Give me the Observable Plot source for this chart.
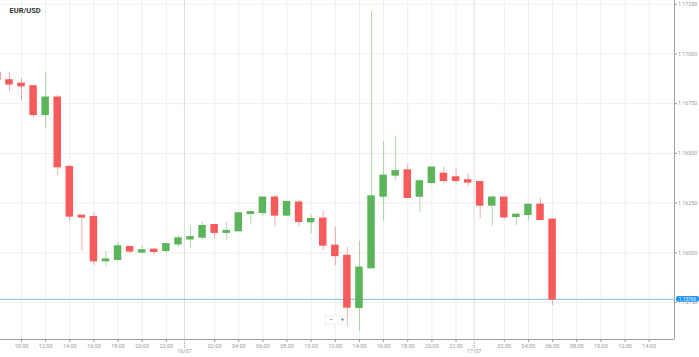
<!DOCTYPE html>
<html><head><meta charset="utf-8">
<script src="https://cdn.jsdelivr.net/npm/d3@7"></script>
<script src="https://cdn.jsdelivr.net/npm/@observablehq/plot@0.6"></script>
<style>
body{margin:0;background:#fff;font-family:Roboto,sans-serif}
#chart{position:relative;width:699px;height:357px;overflow:hidden}
</style>
</head><body><div id="chart"></div>
<script>
const title = "EUR/USD";
// hour index counted from 15/07 00:00
const hours = [8,9,10,11,12,13,14,15,16,17,18,19,20,21,22,23,24,25,26,27,28,29,30,31,32,33,34,35,36,37,38,39,40,41,42,43,44,45,46,47,48,49,50,51,52,53,54];
const open  = [1.16902,1.16867,1.16850,1.16837,1.16694,1.16780,1.16431,1.16186,1.16179,1.15958,1.15965,1.16028,1.16002,1.16015,1.16010,1.16043,1.16068,1.16077,1.16139,1.16101,1.16109,1.16196,1.16201,1.16277,1.16188,1.16252,1.16154,1.16171,1.16035,1.15984,1.15723,1.15923,1.16283,1.16389,1.16414,1.16283,1.16352,1.16397,1.16379,1.16364,1.16355,1.16238,1.16277,1.16181,1.16191,1.16241,1.16166];
const high  = [1.16917,1.16907,1.16875,1.16839,1.16908,1.16791,1.16438,1.16186,1.16203,1.16008,1.16052,1.16032,1.16037,1.16018,1.16043,1.16085,1.16132,1.16154,1.16142,1.16156,1.16203,1.16208,1.16280,1.16288,1.16258,1.16263,1.16191,1.16209,1.16129,1.16028,1.16057,1.17214,1.16560,1.16585,1.16444,1.16367,1.16431,1.16431,1.16423,1.16397,1.16355,1.16287,1.16277,1.16191,1.16241,1.16272,1.16171];
const low   = [1.16857,1.16811,1.16763,1.16677,1.16624,1.16389,1.16154,1.16008,1.15936,1.15931,1.15956,1.15995,1.15992,1.15990,1.15995,1.16028,1.16023,1.16065,1.16070,1.16062,1.16107,1.16146,1.16184,1.16129,1.16183,1.16132,1.16096,1.16012,1.15935,1.15629,1.15604,1.15923,1.16159,1.16364,1.16277,1.16204,1.16339,1.16350,1.16347,1.16334,1.16171,1.16134,1.16166,1.16137,1.16162,1.16166,1.15735];
const close = [1.16872,1.16847,1.16838,1.16694,1.16780,1.16431,1.16183,1.16178,1.15958,1.15966,1.16032,1.16007,1.16012,1.16005,1.16043,1.16072,1.16078,1.16134,1.16101,1.16109,1.16198,1.16204,1.16277,1.16188,1.16255,1.16156,1.16169,1.16037,1.15984,1.15725,1.15925,1.16283,1.16387,1.16410,1.16277,1.16359,1.16428,1.16362,1.16362,1.16354,1.16238,1.16277,1.16179,1.16191,1.16241,1.16166,1.15766];
const hourTicks = [10,12,14,16,18,20,22,26,28,30,32,34,36,38,40,42,44,46,50,52,54,56,58,60,62];
const dayTicks = [23.5,47.5];
const dayLabels = ["16/07","17/07"];
const priceTicks = [1.1575,1.16,1.1625,1.165,1.1675,1.17,1.1725];
const lastPrice = 1.15766;

const candles = hours.map((h,i)=>({h, o:open[i], hi:high[i], lo:low[i], c:close[i], up: close[i]>=open[i]}));
const xDomain = [8.26, 64.1];
const yDomain = [1.15564, 1.17269];
const RED = "#f75a5a", GREEN = "#5cb55a";
const col = d => d.up ? GREEN : RED;
const hourFmt = d => String(d % 24).padStart(2,"0") + ":00";

const plot = Plot.plot({
  width: 699, height: 357,
  marginTop: 0, marginLeft: 0, marginRight: 25, marginBottom: 18,
  style: {fontFamily: "Roboto, sans-serif", background: "#fff", overflow: "visible"},
  x: {domain: xDomain},
  y: {domain: yDomain},
  marks: [
    Plot.ruleX(hourTicks, {stroke: "#efefef"}),
    Plot.ruleY(priceTicks, {stroke: "#efefef"}),
    Plot.ruleX(dayTicks, {stroke: "#dcdcdc"}),
    Plot.ruleY([lastPrice], {stroke: "#7fbff5"}),
    Plot.ruleX(candles, {x: "h", y1: "lo", y2: "hi", stroke: col, strokeOpacity: 0.5, clip: true}),
    Plot.rect(candles, {x1: d => d.h - 0.31, x2: d => d.h + 0.31, y1: "o", y2: "c", fill: col, insetTop: -0.7, insetBottom: -0.7, clip: true}),
    Plot.ruleY([yDomain[0]], {stroke: "#a0a0a0"}),
    Plot.ruleX([xDomain[1]], {stroke: "#a0a0a0"}),
    Plot.axisX(hourTicks, {tickFormat: hourFmt, tickSize: 3, tickPadding: 1.5, fontSize: 5.5, color: "#9a9a9a", label: null}),
    Plot.axisX(dayTicks, {tickFormat: d => dayLabels[dayTicks.indexOf(d)], tickSize: 9, tickPadding: 1, fontSize: 5.5, color: "#9a9a9a", strokeDasharray: "1,1", label: null}),
    Plot.axisY(priceTicks, {anchor: "right", tickFormat: d => d.toFixed(5), tickSize: 2, tickPadding: 1.5, fontSize: 5.3, color: "#9a9a9a", label: null}),
    Plot.text([title], {frameAnchor: "top-left", dx: 9, dy: 7, lineAnchor: "top", textAnchor: "start", fontWeight: "bold", fontSize: 7.5, fill: "#333"})
  ]
});

// current price tag
const sy = plot.scale("y"), sx = plot.scale("x");
const ty = sy.apply(lastPrice), tx = sx.apply(xDomain[1]) + 2;
const svg = d3.select(plot);
svg.append("rect").attr("x", tx).attr("y", ty - 2.8).attr("width", 23).attr("height", 5.6).attr("rx", 2).attr("fill", "#2196f3");
svg.append("text").attr("x", tx + 11.5).attr("y", ty).attr("dy", "0.35em").attr("text-anchor", "middle")
  .attr("font-size", 4.8).attr("fill", "#fff").text(lastPrice.toFixed(5));
// zoom control
const zc = svg.append("g");
zc.append("rect").attr("x", 325).attr("y", 316).attr("width", 22).attr("height", 8).attr("fill", "#fff").attr("stroke", "#e4e4e4").attr("stroke-width", 0.6);
zc.append("text").attr("x", 331).attr("y", 320).attr("dy", "0.35em").attr("text-anchor", "middle").attr("font-size", 7).attr("fill", "#666").text("−");
zc.append("text").attr("x", 342.5).attr("y", 320).attr("dy", "0.35em").attr("text-anchor", "middle").attr("font-size", 7).attr("fill", "#666").text("+");

document.getElementById("chart").appendChild(plot);
</script>
</body></html>
